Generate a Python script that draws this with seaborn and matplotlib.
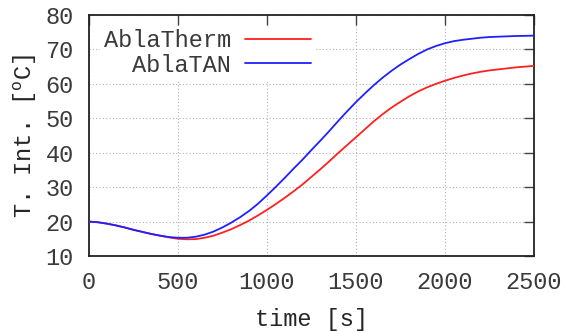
import numpy as np
import pandas as pd
import matplotlib
matplotlib.use("Agg")
import matplotlib.pyplot as plt
import seaborn as sns

# values (time in s, temperature in degC)
time_s = [0, 50, 100, 150, 200, 250, 300, 350, 400, 450, 500, 550, 600,
          650, 700, 750, 800, 850, 900, 950, 1000, 1050, 1100, 1150, 1200,
          1250, 1300, 1350, 1400, 1450, 1500, 1550, 1600, 1650, 1700, 1750,
          1800, 1850, 1900, 1950, 2000, 2050, 2100, 2150, 2200, 2250, 2300,
          2350, 2400, 2450, 2500]
abla_therm = [20.0, 19.8, 19.4, 18.9, 18.3, 17.6, 17.0, 16.4, 15.9, 15.4,
              15.0, 14.85, 14.9, 15.3, 15.9, 16.8, 17.8, 19.0, 20.3, 21.8,
              23.4, 25.1, 26.9, 28.8, 30.8, 33.0, 35.2, 37.5, 39.9, 42.2,
              44.5, 46.8, 49.1, 51.2, 53.1, 54.8, 56.4, 57.8, 59.0, 60.0,
              60.9, 61.7, 62.4, 63.0, 63.5, 63.9, 64.2, 64.5, 64.8, 65.0,
              65.2]
abla_tan = [20.0, 19.8, 19.4, 18.9, 18.3, 17.6, 17.0, 16.4, 15.9, 15.5,
            15.3, 15.3, 15.6, 16.2, 17.1, 18.3, 19.7, 21.3, 23.1, 25.2,
            27.6, 30.1, 32.7, 35.4, 38.0, 40.8, 43.5, 46.3, 49.2, 52.0,
            54.7, 57.2, 59.6, 61.8, 63.8, 65.6, 67.2, 68.7, 70.0, 71.0,
            71.8, 72.4, 72.8, 73.1, 73.4, 73.6, 73.7, 73.8, 73.9, 73.95,
            74.0]
series_names = ["AblaTherm", "AblaTAN"]
x_ticks = [0, 500, 1000, 1500, 2000, 2500]
y_ticks = [10, 20, 30, 40, 50, 60, 70, 80]

df = pd.DataFrame({
    "time": time_s * 2,
    "temp": abla_therm + abla_tan,
    "model": [series_names[0]] * len(time_s) + [series_names[1]] * len(time_s),
})

sns.set_style("white")
plt.rcParams["font.family"] = ["Liberation Mono", "DejaVu Sans Mono"]
plt.rcParams["mathtext.fontset"] = "custom"
plt.rcParams["mathtext.rm"] = "Liberation Mono"
plt.rcParams["text.color"] = "#3a3a3a"

fig = plt.figure(figsize=(5.61, 3.31), dpi=100)
ax = fig.add_axes([0.1586, 0.2266, 0.7932, 0.7281])

colors = {"AblaTherm": "#ff2020", "AblaTAN": "#2020ff"}
sns.lineplot(data=df, x="time", y="temp", hue="model", palette=colors,
             linewidth=1.3, ax=ax, legend=False, zorder=3)

ax.set_xlim(0, 2500)
ax.set_ylim(10, 80)
ax.set_xticks(x_ticks)
ax.set_yticks(y_ticks)
ax.grid(True, color="#b0b0b0", linestyle=(0, (1, 2)), linewidth=0.8)
ax.tick_params(direction="in", top=True, right=True, length=7, width=1,
               color="#444444", labelsize=17, labelcolor="#3a3a3a", pad=11)
for sp in ax.spines.values():
    sp.set_color("#222222")
    sp.set_linewidth(1.3)

ax.set_xlabel("time [s]", fontsize=17, labelpad=10)
ax.set_ylabel(r"T. Int. [$^\mathrm{o}$C]", fontsize=17, labelpad=5)

handles = [plt.Line2D([], [], color=colors[n], lw=1.3) for n in series_names]
leg = ax.legend(handles, series_names, loc="upper left",
                bbox_to_anchor=(0.025, 0.955), borderaxespad=0,
                markerfirst=False, fontsize=17, frameon=True,
                fancybox=False, framealpha=1, facecolor="white",
                edgecolor="none", handlelength=2.8, handletextpad=0.6,
                borderpad=0.15, labelspacing=0.05)

fig.savefig("out.png", dpi=100)
